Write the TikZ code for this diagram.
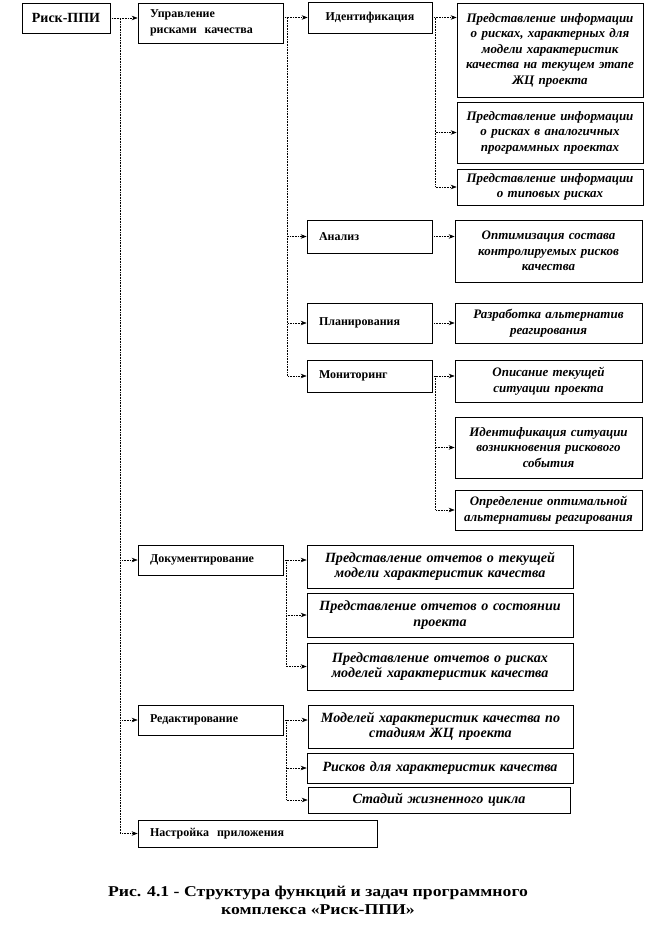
\documentclass[tikz,border=0pt]{standalone}
\usepackage{fontspec}
\setmainfont{Liberation Serif}
\usetikzlibrary{arrows.meta,calc}
\begin{document}
\begin{tikzpicture}[x=1pt,y=-1pt,
  box/.style={draw=black, line width=0.7pt, rectangle, inner ysep=0pt},
  lvl/.style={box, align=left, inner xsep=12pt, font=\fontsize{12}{16}\selectfont\bfseries},
  leafA/.style={box, align=center, inner xsep=2pt, font=\fontsize{13}{15.5}\selectfont\bfseries\itshape},
  leafB/.style={box, align=center, inner xsep=2pt, font=\fontsize{14.1}{15.5}\selectfont\bfseries\itshape},
  conn/.style={densely dotted, line width=0.6pt, -{Stealth[length=6pt,width=4.5pt]}},
  capt/.style={align=center, xscale=1.18, transform shape, font=\fontsize{15}{18}\selectfont\bfseries}]
\useasboundingbox (0,0) rectangle (646,936);
\fill[white] (0,0) rectangle (646,936);

% level 0
\node[box, minimum width=88pt, minimum height=30pt, font=\fontsize{14}{16}\selectfont\bfseries] (root) at (66,18) {Риск-ППИ};
% level 1
\node[lvl, text width=121pt, minimum height=40pt] (ctrl) at (210.5,23) {Управление\\рисками\ \ качества};
\node[lvl, text width=121pt, minimum height=30pt] (doc) at (210.5,560) {Документирование};
\node[lvl, text width=121pt, minimum height=30pt] (red) at (210.5,720) {Редактирование};
\node[lvl, text width=215pt, minimum height=27pt] (setup) at (257.5,833.5) {Настройка\ \ приложения};
% level 2
\node[lvl, text width=100pt, minimum height=31pt, align=center] (ident) at (370,17.5) {Идентификация};
\node[lvl, text width=101pt, minimum height=33pt] (anal) at (369.5,236.5) {Анализ};
\node[lvl, text width=101pt, minimum height=40pt] (plan) at (369.5,323) {Планирования};
\node[lvl, text width=101pt, minimum height=32pt] (mon) at (369.5,376) {Мониторинг};
% leaves of level 2
\node[leafA, text width=182pt, minimum height=94pt] (l1) at (550,50) {Представление информации\\о рисках, характерных для\\модели характеристик\\качества на текущем этапе\\ЖЦ проекта};
\node[leafA, text width=182pt, minimum height=61pt] (l2) at (550,132.5) {Представление информации\\о рисках в аналогичных\\программных проектах};
\node[leafA, text width=182pt, minimum height=36pt] (l3) at (550,187) {Представление информации\\о типовых рисках};
\node[leafA, text width=183pt, minimum height=62pt] (l4) at (548.5,251) {Оптимизация состава\\контролируемых рисков\\качества};
\node[leafA, text width=183pt, minimum height=40pt] (l5) at (548.5,323) {Разработка альтернатив\\реагирования};
\node[leafA, text width=183pt, minimum height=42pt] (l6) at (548.5,381) {Описание текущей\\ситуации проекта};
\node[leafA, text width=183pt, minimum height=61pt] (l7) at (548.5,447.5) {Идентификация ситуации\\возникновения рискового\\события};
\node[leafA, text width=183pt, minimum height=40pt] (l8) at (548.5,510) {Определение оптимальной\\альтернативы реагирования};
% leaves of level 1
\node[leafB, text width=262pt, minimum height=43pt] (l9) at (440,566.5) {Представление отчетов о текущей\\модели характеристик качества};
\node[leafB, text width=262pt, minimum height=44pt] (l10) at (440,615) {Представление отчетов о состоянии\\проекта};
\node[leafB, text width=262pt, minimum height=47pt] (l11) at (440,666.5) {Представление отчетов о рисках\\моделей характеристик качества};
\node[leafB, text width=261pt, minimum height=43pt] (l12) at (440.5,726.5) {Моделей характеристик качества по\\стадиям ЖЦ проекта};
\node[leafB, text width=262pt, minimum height=30pt] (l13) at (440,768) {Рисков для характеристик качества};
\node[leafB, text width=258pt, minimum height=26pt] (l14) at (439,800) {Стадий жизненного цикла};

% caption
\node[capt] (cap) at (318,900) {Рис. 4.1 - Структура функций и задач программного\\комплекса «Риск-ППИ»};

% connectors from root
\draw[conn] (root.east) -- (root.east -| ctrl.west);
\draw[conn] (root.east) -- ++(10,0) |- (doc.west);
\draw[conn] (root.east) -- ++(10,0) |- (red.west);
\draw[conn] (root.east) -- ++(10,0) |- (setup.west);
% from ctrl
\draw[conn] (ctrl.east |- ident.west) -- (ident.west);
\draw[conn] (ctrl.east |- ident.west) -- ++(4,0) |- (anal.west);
\draw[conn] (ctrl.east |- ident.west) -- ++(4,0) |- (plan.west);
\draw[conn] (ctrl.east |- ident.west) -- ++(4,0) |- (mon.west);
% from ident
\draw[conn] (ident.east) -- (ident.east -| l1.west);
\draw[conn] (ident.east) -- ++(3,0) |- (l2.west);
\draw[conn] (ident.east) -- ++(3,0) |- (l3.west);
% anal, plan
\draw[conn] (anal.east) -- (anal.east -| l4.west);
\draw[conn] (plan.east) -- (plan.east -| l5.west);
% mon
\draw[conn] (mon.east) -- (mon.east -| l6.west);
\draw[conn] (mon.east) -- ++(3,0) |- (l7.west);
\draw[conn] (mon.east) -- ++(3,0) |- (l8.west);
% doc
\draw[conn] (doc.east) -- (doc.east -| l9.west);
\draw[conn] (doc.east) -- ++(3,0) |- (l10.west);
\draw[conn] (doc.east) -- ++(3,0) |- (l11.west);
% red
\draw[conn] (red.east) -- (red.east -| l12.west);
\draw[conn] (red.east) -- ++(3,0) |- (l13.west);
\draw[conn] (red.east) -- ++(3,0) |- (l14.west);
\end{tikzpicture}
\end{document}
